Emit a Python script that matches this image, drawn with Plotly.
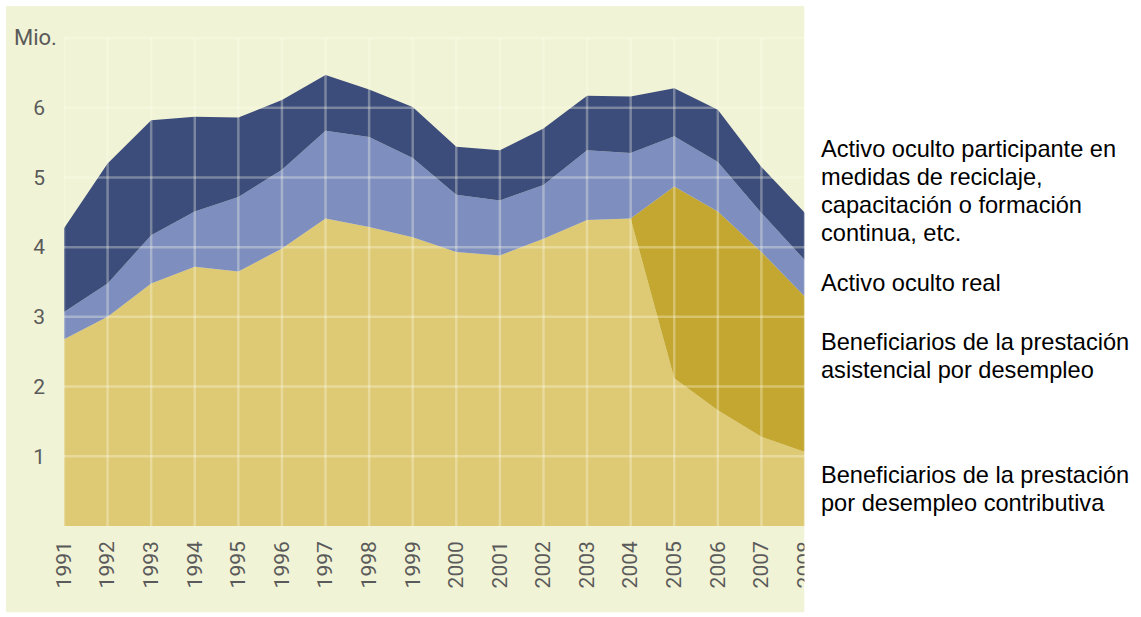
import plotly.graph_objects as go

# ---------------- data ----------------
years = [1991, 1992, 1993, 1994, 1995, 1996, 1997, 1998, 1999,
         2000, 2001, 2002, 2003, 2004, 2005, 2006, 2007, 2008]
year_labels = [str(y) for y in years]

# millions of persons (stacked from bottom to top)
contributiva = [2.68, 3.00, 3.48, 3.72, 3.65, 3.98, 4.41, 4.29, 4.14,
                3.93, 3.88, 4.12, 4.39, 4.41, 2.12, 1.66, 1.28, 1.06]
asistencial = [0.00, 0.00, 0.00, 0.00, 0.00, 0.00, 0.00, 0.00, 0.00,
               0.00, 0.00, 0.00, 0.00, 0.00, 2.75, 2.85, 2.65, 2.23]
activo_real = [0.39, 0.48, 0.69, 0.79, 1.07, 1.13, 1.26, 1.29, 1.14,
               0.82, 0.79, 0.77, 1.00, 0.94, 0.72, 0.71, 0.56, 0.52]
activo_participante = [1.20, 1.72, 1.65, 1.36, 1.14, 1.00, 0.80, 0.68, 0.73,
                       0.69, 0.72, 0.81, 0.78, 0.81, 0.69, 0.75, 0.66, 0.68]

series_names = [
    "Beneficiarios de la prestación por desempleo contributiva",
    "Beneficiarios de la prestación asistencial por desempleo",
    "Activo oculto real",
    "Activo oculto participante en medidas de reciclaje, capacitación o formación continua, etc.",
]
series_values = [contributiva, asistencial, activo_real, activo_participante]
series_colors = ["#dec975", "#c4a731", "#7e8ebf", "#3c4c7b"]

y_ticks = [1, 2, 3, 4, 5, 6]
y_grid = [1, 2, 3, 4, 5, 6, 7]
y_unit_label = "Mio."

legend_lines = [
    ["Activo oculto participante en", "medidas de reciclaje,",
     "capacitación o formación", "continua, etc."],
    ["Activo oculto real"],
    ["Beneficiarios de la prestación", "asistencial por desempleo"],
    ["Beneficiarios de la prestación", "por desempleo contributiva"],
]

# ---------------- layout geometry (pixels) ----------------
W, H = 1141, 617
PL, PR = 64, 805.5          # plot left/right px
PT, PB = 31, 525.7          # plot top/bottom px
Y_MAX = 7.1


def px_x(px):
    return (px - PL) / (PR - PL)


def px_y(py):
    return (PB - py) / (PB - PT)


fig = go.Figure()
for name, vals, col in zip(series_names, series_values, series_colors):
    fig.add_trace(go.Scatter(
        x=years, y=vals, name=name, mode="lines",
        stackgroup="one", line=dict(width=0, color=col),
        fillcolor=col, showlegend=False,
    ))

shapes = []
# background panel
shapes.append(dict(type="rect", xref="paper", yref="paper",
                   x0=px_x(6), x1=px_x(805), y0=px_y(612), y1=px_y(6),
                   fillcolor="#f1f3d6", line=dict(width=0), layer="below"))
# grid lines drawn over the areas
grid_col = "rgba(255,255,235,0.32)"
for v in y_grid:
    shapes.append(dict(type="line", xref="x", yref="y",
                       x0=years[0], x1=years[-1], y0=v, y1=v,
                       line=dict(color=grid_col, width=2.5), layer="above"))
for yr in years:
    shapes.append(dict(type="line", xref="x", yref="y",
                       x0=yr, x1=yr, y0=0, y1=y_grid[-1],
                       line=dict(color=grid_col, width=2.5), layer="above"))
# white cover on the right (picture is cropped there)
shapes.append(dict(type="rect", xref="paper", yref="paper",
                   x0=px_x(805), x1=px_x(W + 5), y0=px_y(H + 5), y1=px_y(-5),
                   fillcolor="white", line=dict(width=0), layer="above"))

annotations = [dict(text=y_unit_label, xref="paper", yref="y",
                    x=px_x(12), y=y_grid[-1], xanchor="left", yanchor="middle",
                    showarrow=False,
                    font=dict(family="Roboto", size=22, color="#5a5a5a"))]

legend_centers = [[149, 177, 205, 233], [283], [342, 370], [475, 503]]
for block, centers in zip(legend_lines, legend_centers):
    for line, cy in zip(block, centers):
        annotations.append(dict(text=line, xref="paper", yref="paper",
                                x=px_x(820), y=px_y(cy), xanchor="left",
                                yanchor="middle", showarrow=False,
                                font=dict(family="Liberation Sans, Arial",
                                          size=23.6, color="#000000")))

fig.update_layout(
    width=W, height=H,
    margin=dict(l=PL, r=W - PR, t=PT, b=H - PB, pad=0),
    paper_bgcolor="white",
    plot_bgcolor="rgba(0,0,0,0)",
    shapes=shapes,
    annotations=annotations,
    showlegend=False,
    xaxis=dict(range=[years[0], years[-1]], tickvals=years, ticktext=year_labels,
               tickangle=-90, showgrid=False, zeroline=False, showline=False,
               ticks="", ticklabelstandoff=10,
               tickfont=dict(family="Roboto", size=21, color="#5a5a5a")),
    yaxis=dict(range=[0, Y_MAX], tickvals=y_ticks,
               ticktext=[str(t) for t in y_ticks],
               showgrid=False, zeroline=False, showline=False,
               ticks="", ticklabelstandoff=18,
               tickfont=dict(family="Roboto", size=21, color="#5a5a5a")),
)

fig.write_html("out.html", config={"displayModeBar": False},
               post_script="document.body.style.margin='0';")
